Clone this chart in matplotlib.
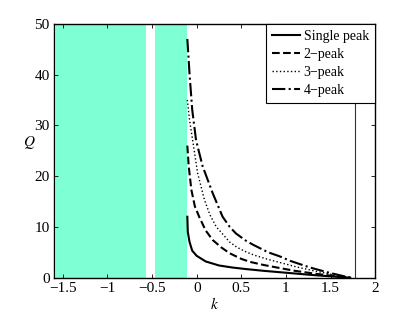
import matplotlib
matplotlib.use("Agg")
from matplotlib import pyplot as plt

plt.rcParams['font.family'] = ['Liberation Serif', 'DejaVu Serif']
plt.rcParams['font.size'] = 11
plt.rcParams['mathtext.fontset'] = 'stix'

# shaded k-intervals (left, right) and their height
band_left = [-1.58, -0.47]
band_right = [-0.57, -0.11]
band_top = 49.7
k_line = 1.77

single_k = [-0.105, -0.1, -0.08, -0.05, 0.0, 0.1, 0.25, 0.4, 0.55, 0.75, 0.95, 1.15, 1.35, 1.55, 1.72]
single_q = [12.0, 9.0, 7.0, 5.3, 4.3, 3.2, 2.4, 2.0, 1.7, 1.35, 1.05, 0.75, 0.45, 0.2, 0.0]

two_k = [-0.105, -0.09, -0.06, -0.02, 0.03, 0.1, 0.18, 0.28, 0.37, 0.5, 0.6, 0.75, 0.93, 1.1, 1.3, 1.5, 1.72]
two_q = [26.0, 22.0, 17.3, 14.0, 11.9, 9.3, 7.4, 5.9, 4.8, 3.7, 3.1, 2.5, 1.9, 1.35, 0.85, 0.4, 0.0]

three_k = [-0.105, -0.08, -0.045, 0.01, 0.087, 0.15, 0.22, 0.3, 0.37, 0.45, 0.55, 0.65, 0.8, 0.95, 1.1, 1.3, 1.5, 1.72]
three_q = [35.0, 31.0, 27.0, 20.6, 15.3, 12.3, 10.0, 8.4, 7.0, 6.0, 5.1, 4.4, 3.6, 2.9, 2.2, 1.4, 0.7, 0.0]

four_k = [-0.105, -0.08, -0.05, -0.007, 0.067, 0.18, 0.29, 0.37, 0.44, 0.55, 0.63, 0.8, 0.93, 1.05, 1.27, 1.5, 1.72]
four_q = [47.0, 40.0, 33.0, 27.0, 21.9, 16.6, 12.0, 10.0, 8.7, 7.3, 6.5, 5.0, 4.2, 3.3, 2.0, 0.9, 0.0]

xticks = [-1.5, -1, -0.5, 0, 0.5, 1, 1.5, 2]
xlabels = ['\u22121.5', '\u22121', '\u22120.5', '0', '0.5', '1', '1.5', '2']
yticks = [0, 10, 20, 30, 40, 50]

fig = plt.figure(figsize=(4.15, 3.12), dpi=100)
ax = fig.add_axes([0.130, 0.110, 0.774, 0.814])

for l, r in zip(band_left, band_right):
    ax.fill_between([l, r], 0, band_top, color='#7fffd4', linewidth=0)
ax.axvline(k_line, color='#333333', lw=0.8)

ax.plot(single_k, single_q, 'k-', lw=1.5, label='Single peak')
ax.plot(two_k, two_q, 'k--', lw=1.5, label='2\u2212peak')
ax.plot(three_k, three_q, 'k:', lw=1.0, label='3\u2212peak')
ax.plot(four_k, four_q, 'k-.', lw=1.5, label='4\u2212peak')

ax.set_xlim(-1.6, 2)
ax.set_ylim(0, 50)
ax.set_xticks(xticks)
ax.set_xticklabels(xlabels)
ax.set_yticks(yticks)
ax.tick_params(direction='in', top=True, right=True, length=3, width=0.6, pad=3)
for s in ax.spines.values():
    s.set_linewidth(1.0)
ax.set_xlabel('$k$', labelpad=1)
ax.set_ylabel('$Q$', rotation=0, labelpad=4)

leg = ax.legend(loc='upper right', fancybox=False, edgecolor='black', fontsize=10,
                borderaxespad=0, handlelength=2.0, handletextpad=0.25,
                labelspacing=0.35, borderpad=0.45)
leg.get_frame().set_linewidth(0.8)
leg.get_frame().set_alpha(1)

fig.savefig('out.png', dpi=100)
